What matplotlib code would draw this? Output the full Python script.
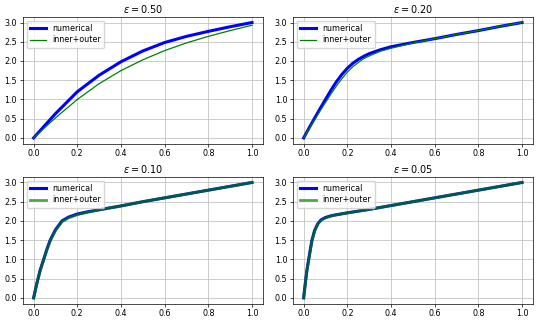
import matplotlib
matplotlib.use('Agg')
import matplotlib.pyplot as plt

# valores de epsilon de cada panel
eps_values = [0.50, 0.20, 0.10, 0.05]

# eps = 0.50
x_050 = [0.0, 0.1, 0.2, 0.3, 0.4, 0.5, 0.6, 0.7, 0.8, 0.9, 1.0]
num_050 = [0.0, 0.63, 1.20, 1.63, 1.98, 2.26, 2.48, 2.64, 2.77, 2.89, 3.00]
io_050 = [0.0, 0.52, 1.00, 1.41, 1.75, 2.03, 2.27, 2.47, 2.64, 2.79, 2.93]

# eps = 0.20
x_020 = [0.0, 0.025, 0.05, 0.075, 0.1, 0.125, 0.15, 0.175, 0.2, 0.225, 0.25, 0.275, 0.3,
         0.35, 0.4, 0.5, 0.6, 0.7, 0.8, 0.9, 1.0]
num_020 = [0.0, 0.26, 0.51, 0.76, 1.00, 1.24, 1.46, 1.65, 1.81, 1.94, 2.04, 2.12, 2.19,
           2.29, 2.37, 2.48, 2.58, 2.69, 2.79, 2.90, 3.00]
io_020 = [0.0, 0.24, 0.47, 0.70, 0.92, 1.14, 1.35, 1.54, 1.71, 1.85, 1.96, 2.06, 2.13,
          2.25, 2.33, 2.47, 2.58, 2.69, 2.79, 2.90, 3.00]

# eps = 0.10
x_010 = [0.0, 0.015, 0.03, 0.046, 0.06, 0.076, 0.1, 0.13, 0.16, 0.2, 0.25, 0.3, 0.4, 0.5,
         0.6, 0.7, 0.8, 0.9, 1.0]
num_010 = [0.0, 0.38, 0.72, 1.00, 1.25, 1.50, 1.77, 2.00, 2.10, 2.18, 2.24, 2.29, 2.39, 2.50,
           2.60, 2.70, 2.80, 2.90, 3.00]
io_010 = [0.0, 0.37, 0.70, 0.98, 1.23, 1.48, 1.75, 1.98, 2.08, 2.16, 2.23, 2.29, 2.39, 2.50,
          2.60, 2.70, 2.80, 2.90, 3.00]

# eps = 0.05
x_005 = [0.0, 0.008, 0.015, 0.023, 0.031, 0.038, 0.05, 0.065, 0.08, 0.1, 0.13, 0.2, 0.3,
         0.4, 0.5, 0.6, 0.7, 0.8, 0.9, 1.0]
num_005 = [0.0, 0.40, 0.72, 1.00, 1.27, 1.50, 1.75, 1.93, 2.03, 2.09, 2.14, 2.21, 2.30,
           2.40, 2.50, 2.60, 2.70, 2.80, 2.90, 3.00]
io_005 = [0.0, 0.39, 0.70, 0.98, 1.25, 1.48, 1.73, 1.92, 2.02, 2.08, 2.14, 2.21, 2.30,
          2.40, 2.50, 2.60, 2.70, 2.80, 2.90, 3.00]

xs = [x_050, x_020, x_010, x_005]
nums = [num_050, num_020, num_010, num_005]
ios = [io_050, io_020, io_010, io_005]

fig, axes = plt.subplots(2, 2, figsize=(5.4, 3.22), dpi=100)
plt.subplots_adjust(left=0.042, right=0.987, top=0.948, bottom=0.057, wspace=0.124, hspace=0.26)

for i, ax in enumerate(axes.flat):
    ax.plot(xs[i], nums[i], color='b', lw=2.2, label='numerical')
    # para eps pequeños la curva compuesta va gruesa y semitransparente
    if eps_values[i] >= 0.2:
        ax.plot(xs[i], ios[i], color='g', lw=0.9, label='inner+outer')
    else:
        ax.plot(xs[i], ios[i], color='g', lw=2.0, alpha=0.7, label='inner+outer')
    ax.set_title(r'$\varepsilon = %.2f$' % eps_values[i], fontsize=7, pad=3)
    ax.set_xticks([0.0, 0.2, 0.4, 0.6, 0.8, 1.0])
    ax.set_yticks([0.0, 0.5, 1.0, 1.5, 2.0, 2.5, 3.0])
    ax.tick_params(labelsize=5.8, length=2, width=0.5, pad=2)
    ax.grid(True, lw=0.6, color='#c4c4c4')
    for s in ax.spines.values():
        s.set_linewidth(0.5)
    ax.legend(loc='upper left', fontsize=5.8, handlelength=2.0, borderpad=0.4,
              labelspacing=0.3, framealpha=0.8)

plt.savefig('out.png', dpi=100)
